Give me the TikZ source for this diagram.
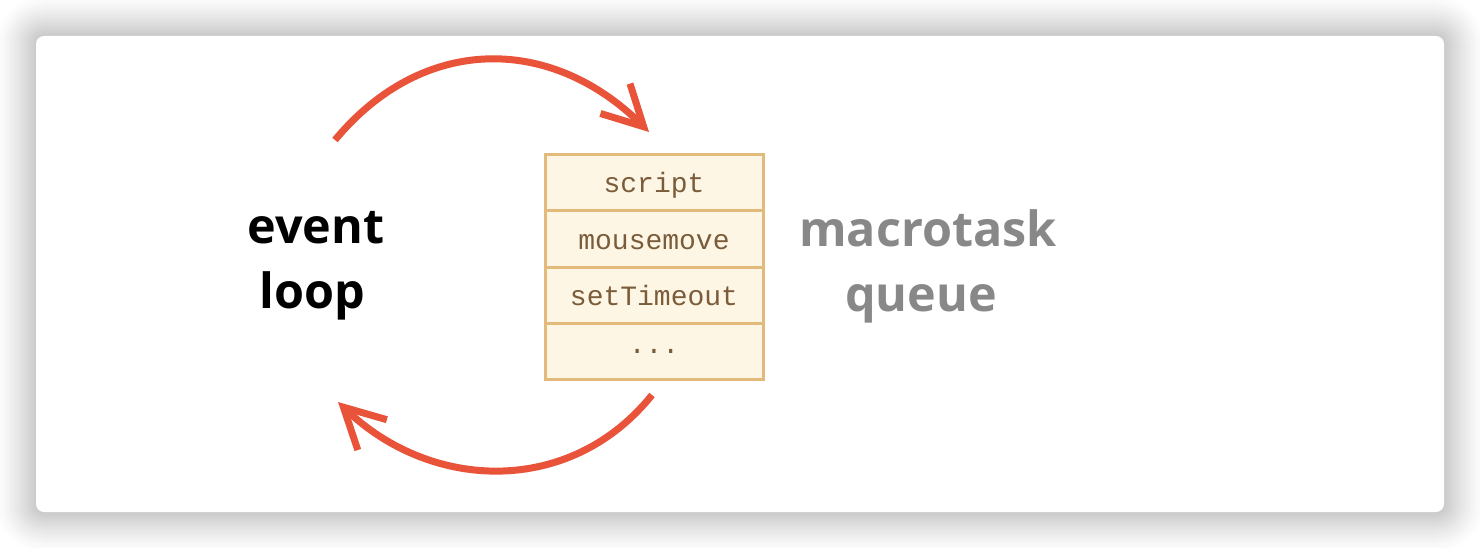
\documentclass[tikz,border=0pt]{standalone}
\usepackage{fontspec}
\setmainfont{Open Sans}
\newfontfamily\queuefont{Liberation Mono}
\usetikzlibrary{arrows.meta,positioning}

\definecolor{flowred}{HTML}{E8533A}
\definecolor{cellborder}{HTML}{E2BA7C}
\definecolor{cellfill}{HTML}{FDF6E4}
\definecolor{celltext}{HTML}{7A5C3A}
\definecolor{mutedtext}{HTML}{888888}

\tikzset{
  card/.style={fill=white, rounded corners=8pt},
  cell/.style={draw=cellborder, fill=cellfill, line width=3pt,
    minimum width=218pt, minimum height=56pt, outer sep=0pt, inner sep=0pt,
    text height=20pt, text depth=0pt,
    text=celltext, font=\queuefont\fontsize{28}{30}\selectfont},
  biglabel/.style={align=center, font=\bfseries\fontsize{48.5}{65}\selectfont},
  flow/.style={draw=flowred, line width=7pt,
    -{Straight Barb[sharp, length=40pt, width=42pt]}}
}

\begin{document}
\begin{tikzpicture}[x=1pt, y=-1pt]
  \useasboundingbox (0,0) rectangle (1480,548);
  \fill[white] (0,0) rectangle (1480,548);

  % soft shadow under the card: opaque rings, lightest outside
  \foreach \i in {40,39,...,1} {
    \pgfmathsetmacro\shade{21*(1-\i/41)^1.3}
    \fill[black!\shade!white, rounded corners=8pt+\i pt]
      (36-\i,36-\i) rectangle (1444+\i,512+\i);
  }
  \path[card] (36,36) rectangle (1444,512);

  % the task queue
  \node[cell] (q1) at (654,183) {script};
  \node[cell, below=0pt of q1] (q2) {mousemove};
  \node[cell, below=0pt of q2] (q3) {setTimeout};
  \node[cell, below=0pt of q3, text height=4pt] (q4) {...};

  % labels
  \node[biglabel] (loop) at (316,266) {event\\loop\hspace*{7pt}};
  \node[biglabel, text=mutedtext] (macro) at (928,266) {macrotask\\queue\hspace*{14pt}};

  % loop arrows
  \coordinate (topstart) at (335,140);
  \coordinate (topend) at (649,132);
  \coordinate (botstart) at (652,395);
  \coordinate (botend) at (338,402);
  \draw[flow] (topstart) .. controls (423,34) and (551,35) .. (topend);
  \draw[flow] (botstart) .. controls (571,496) and (432,492) .. (botend);
\end{tikzpicture}
\end{document}
